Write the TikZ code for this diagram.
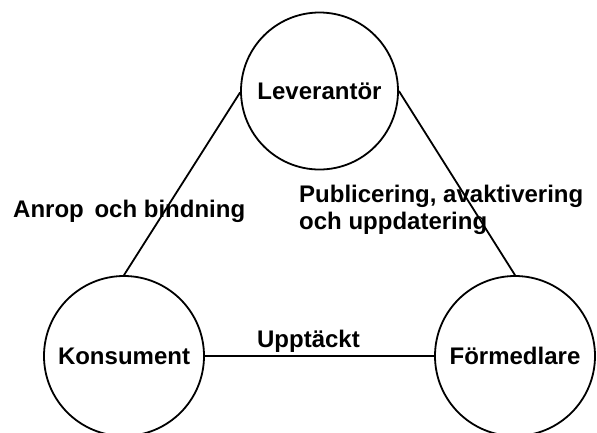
\documentclass[tikz,border=0pt]{standalone}
\usepackage{fontspec}
\setmainfont{Liberation Sans}
\begin{document}
\begin{tikzpicture}[x=1pt,y=-1pt,
  role/.style={circle,draw,line width=1.8pt,inner sep=0pt,font=\bfseries\fontsize{24}{27}\selectfont},
  link/.style={line width=1.8pt},
  lbl/.style={inner sep=0pt,font=\bfseries\fontsize{24}{27}\selectfont}]
  \useasboundingbox (0,0) rectangle (597,432);
  % the three roles
  \node[role,minimum size=157pt] (lev) at (319.5,91) {Leverantör};
  \node[role,minimum size=160pt] (kon) at (124,356) {Konsument};
  \node[role,minimum size=160pt] (for) at (515,356) {Förmedlare};
  % connections between the roles
  \draw[link] (kon.north) -- (lev.181);
  \draw[link] (lev.east) -- (for.north);
  \draw[link] (kon.east) -- (for.west);
  % relationship labels
  \node[lbl,anchor=base west] (anrop) at (13,217) {Anrop\hspace{4pt} och bindning};
  \node[lbl,anchor=north west,align=left] (publ) at (299,185) {Publicering, avaktivering\\och uppdatering};
  \node[lbl,anchor=base] (uppt) at (308.5,347) {Upptäckt};
\end{tikzpicture}
\end{document}
